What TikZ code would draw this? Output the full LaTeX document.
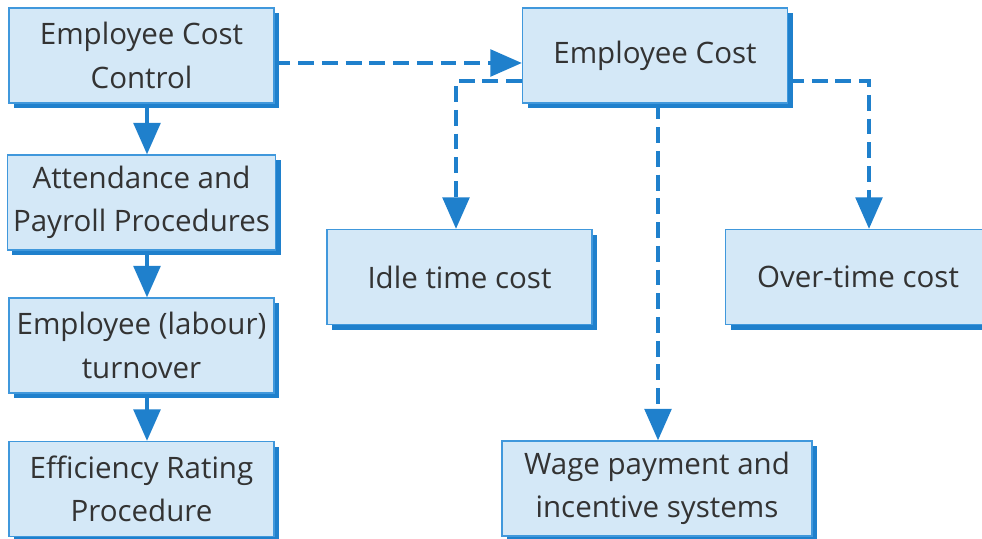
\documentclass[tikz,border=0pt]{standalone}
\usepackage{fontspec}
\setmainfont{Open Sans}
\usetikzlibrary{positioning,arrows.meta,shadows,calc}
\definecolor{linkblue}{RGB}{31,128,204}
\definecolor{boxfill}{RGB}{212,232,247}
\definecolor{boxline}{RGB}{64,152,220}
\definecolor{textgray}{RGB}{51,51,51}

\begin{document}
\begin{tikzpicture}[
    costbox/.style={rectangle, draw=boxline, line width=0.6pt, fill=boxfill,
        minimum width=5.3cm, minimum height=1.9cm, align=center, text=textgray,
        font=\fontsize{16.8}{24.6}\selectfont,
        drop shadow={shadow xshift=0.1cm, shadow yshift=-0.1cm, fill=linkblue, opacity=1}},
    flow/.style={-{Triangle[length=18pt,width=15pt]}, draw=linkblue, line width=2.8pt},
    link/.style={flow, line width=2.6pt, dash pattern=on 9pt off 4.5pt}
]
\useasboundingbox (0,0) rectangle (19.64,10.76);

% left column
\node[costbox] (ecc) at (2.83,9.65) {Employee Cost\\Control};
\node[costbox] (att) at (2.83,6.71) {Attendance and\\Payroll Procedures};
\node[costbox] (turn) at (2.83,3.85) {Employee (labour)\\turnover};
\node[costbox] (eff) at (2.83,0.98) {Efficiency Rating\\Procedure};

% right part
\node[costbox] (ec) at (13.10,9.65) {Employee Cost};
\node[costbox] (idle) at (9.19,5.22) {Idle time cost};
\node[costbox] (over) at (17.16,5.22) {Over-time cost};
\node[costbox, minimum width=6.2cm] (wage) at (13.14,0.99) {Wage payment and\\incentive systems};

\draw[flow] ([xshift=0.11cm]ecc.south) -- ([xshift=0.11cm]att.north);
\draw[flow] ([xshift=0.11cm]att.south) -- ([xshift=0.11cm]turn.north);
\draw[flow] ([xshift=0.11cm]turn.south) -- ([xshift=0.11cm]eff.north);

\draw[link] ([yshift=-0.15cm]ecc.east) -- ([yshift=-0.15cm]ec.west);
\draw[link] ([yshift=-0.51cm]ec.west) -| ([xshift=-0.07cm]idle.north);
\draw[link] ([yshift=-0.51cm]ec.east) -| ([xshift=0.22cm]over.north);
\draw[link] ([xshift=0.06cm]ec.south) -- ([xshift=0.06cm]ec.south |- wage.north);
\end{tikzpicture}
\end{document}
